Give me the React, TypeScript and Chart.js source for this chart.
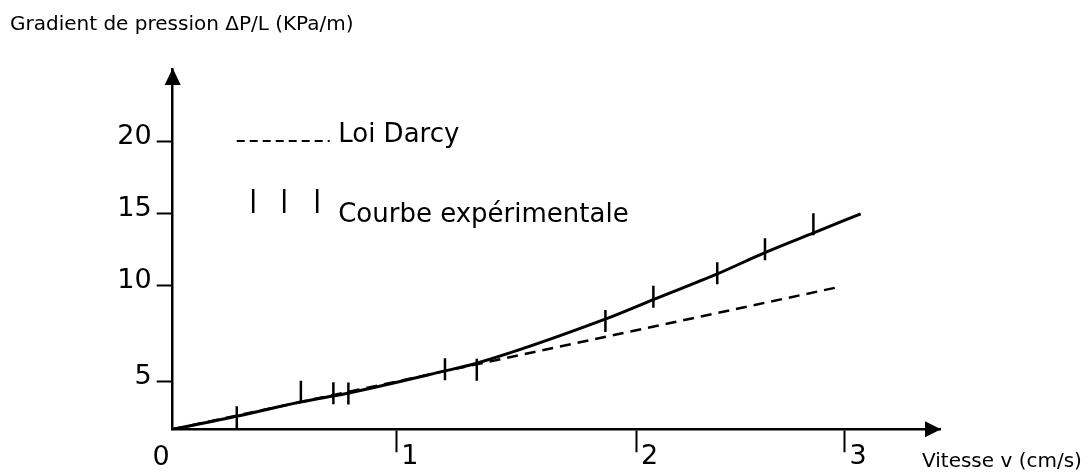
import React, { useEffect, useRef } from 'react';
import { Chart, registerables } from 'chart.js';

Chart.register(...registerables);

// ---- data ----
const DARCY_V = [0, 2.98];
const DARCY_G = [0, 9.9];

const CURVE_V = [0, 0.29, 0.57, 0.78, 1.22, 1.36, 1.93, 2.15, 2.43, 2.64, 2.86, 3.07];
const CURVE_G = [0, 0.92, 1.9, 2.5, 4.07, 4.6, 7.64, 9.03, 10.78, 12.24, 13.63, 14.95];

const MARK_V = [0.286, 0.572, 0.717, 0.784, 1.215, 1.357, 1.931, 2.145, 2.43, 2.643, 2.859];
const MARK_G = [0.84, 2.61, 2.5, 2.49, 4.17, 4.13, 7.51, 9.19, 10.82, 12.5, 14.22];

const X_TICK_VALUES = [1, 2.07, 3];
const X_TICK_LABELS = ['1', '2', '3'];
const Y_TICK_VALUES = [3.35, 10, 15, 20];
const Y_TICK_LABELS = ['5', '10', '15', '20'];
const ORIGIN_LABEL = '0';

const X_MAX = 3.424;
const Y_MAX = 25;

const Y_TITLE = 'Gradient de pression ΔP/L (KPa/m)';
const X_TITLE = 'Vitesse v (cm/s)';
const LEGEND_LABELS = ['Loi Darcy', 'Courbe expérimentale'];

const FONT = '"DejaVu Sans", sans-serif';

const decorations = {
  id: 'decorations',
  afterDraw(chart: any) {
    const ctx = chart.ctx as CanvasRenderingContext2D;
    const { left, right, top, bottom } = chart.chartArea;
    const xs = chart.scales.x;
    const ys = chart.scales.y;
    const ox = xs.getPixelForValue(0);
    const oy = ys.getPixelForValue(0);
    ctx.save();
    ctx.fillStyle = '#000';
    ctx.strokeStyle = '#000';

    // arrow heads
    ctx.beginPath();
    ctx.moveTo(right + 1, oy);
    ctx.lineTo(right - 15, oy - 8);
    ctx.lineTo(right - 15, oy + 8);
    ctx.closePath();
    ctx.fill();
    ctx.beginPath();
    ctx.moveTo(ox, top - 1);
    ctx.lineTo(ox - 8, top + 16);
    ctx.lineTo(ox + 8, top + 16);
    ctx.closePath();
    ctx.fill();

    // origin label
    ctx.font = `27px ${FONT}`;
    ctx.textAlign = 'center';
    ctx.textBaseline = 'alphabetic';
    ctx.fillText(ORIGIN_LABEL, ox - 11.5, oy + 35.5);

    // axis titles
    ctx.font = `20px ${FONT}`;
    ctx.textAlign = 'left';
    ctx.fillText(Y_TITLE, 10, 30);
    ctx.fillText(X_TITLE, right - 18, bottom + 37.5);

    // legend
    ctx.lineWidth = 2;
    ctx.setLineDash([8, 5]);
    ctx.beginPath();
    ctx.moveTo(left + 64, top + 72);
    ctx.lineTo(left + 157, top + 72);
    ctx.stroke();
    ctx.setLineDash([]);
    ctx.lineWidth = 2.5;
    [80.5, 111.5, 144.5].forEach((dx) => {
      ctx.beginPath();
      ctx.moveTo(left + dx, top + 120);
      ctx.lineTo(left + dx, top + 144);
      ctx.stroke();
    });
    ctx.font = `26px ${FONT}`;
    ctx.fillText(LEGEND_LABELS[0], left + 165.5, top + 72.7);
    ctx.fillText(LEGEND_LABELS[1], left + 165.5, top + 153);
    ctx.restore();
  },
};

export default function App() {
  const ref = useRef<HTMLCanvasElement | null>(null);

  useEffect(() => {
    if (!ref.current) return;
    const chart = new Chart(ref.current, {
      type: 'scatter',
      data: {
        datasets: [
          {
            label: LEGEND_LABELS[0],
            data: DARCY_V.map((v, i) => ({ x: v, y: DARCY_G[i] })),
            showLine: true,
            borderColor: '#000',
            borderWidth: 2.5,
            borderDash: [11, 7],
            pointRadius: 0,
          },
          {
            label: LEGEND_LABELS[1],
            data: CURVE_V.map((v, i) => ({ x: v, y: CURVE_G[i] })),
            showLine: true,
            borderColor: '#000',
            borderWidth: 3,
            cubicInterpolationMode: 'monotone',
            pointRadius: 0,
          },
          {
            label: 'mesures',
            data: MARK_V.map((v, i) => ({ x: v, y: MARK_G[i] })),
            showLine: false,
            pointStyle: 'line',
            pointRotation: 90,
            pointRadius: 11,
            pointBorderColor: '#000',
            pointBorderWidth: 2.5,
            pointBackgroundColor: '#000',
          } as any,
        ],
      },
      options: {
        animation: false,
        responsive: true,
        maintainAspectRatio: false,
        events: [],
        layout: { padding: { top: 69, right: 148, bottom: 0, left: 0 } },
        plugins: {
          legend: { display: false },
          tooltip: { enabled: false },
          title: { display: false },
        },
        scales: {
          x: {
            type: 'linear',
            min: 0,
            max: X_MAX,
            afterBuildTicks: (s: any) => {
              s.ticks = X_TICK_VALUES.map((value) => ({ value }));
            },
            afterFit: (s: any) => {
              s.height = 42.7;
            },
            ticks: {
              autoSkip: false,
              maxRotation: 0,
              color: '#000',
              font: { family: FONT, size: 27 },
              labelOffset: 13,
              padding: -12,
              callback: (v: any) => {
                const i = X_TICK_VALUES.indexOf(Number(v));
                return i >= 0 ? X_TICK_LABELS[i] : '';
              },
            },
            grid: {
              drawOnChartArea: false,
              drawTicks: true,
              tickLength: 23,
              tickWidth: 2,
              tickColor: '#000',
            },
            border: { display: true, color: '#000', width: 2.5 },
          },
          y: {
            type: 'linear',
            min: 0,
            max: Y_MAX,
            afterBuildTicks: (s: any) => {
              s.ticks = Y_TICK_VALUES.map((value) => ({ value }));
            },
            afterFit: (s: any) => {
              s.width = 172.7;
            },
            ticks: {
              autoSkip: false,
              color: '#000',
              font: { family: FONT, size: 27 },
              labelOffset: -4,
              padding: 5,
              callback: (v: any) => {
                const i = Y_TICK_VALUES.indexOf(Number(v));
                return i >= 0 ? Y_TICK_LABELS[i] : '';
              },
            },
            grid: {
              drawOnChartArea: false,
              drawTicks: true,
              tickLength: 16,
              tickWidth: 2,
              tickColor: '#000',
            },
            border: { display: true, color: '#000', width: 2.5 },
          },
        },
      } as any,
      plugins: [decorations],
    });
    return () => chart.destroy();
  }, []);

  return (
    <div style={{ position: 'absolute', left: 0, top: 0, width: 1088, height: 472 }}>
      <canvas ref={ref} />
    </div>
  );
}
